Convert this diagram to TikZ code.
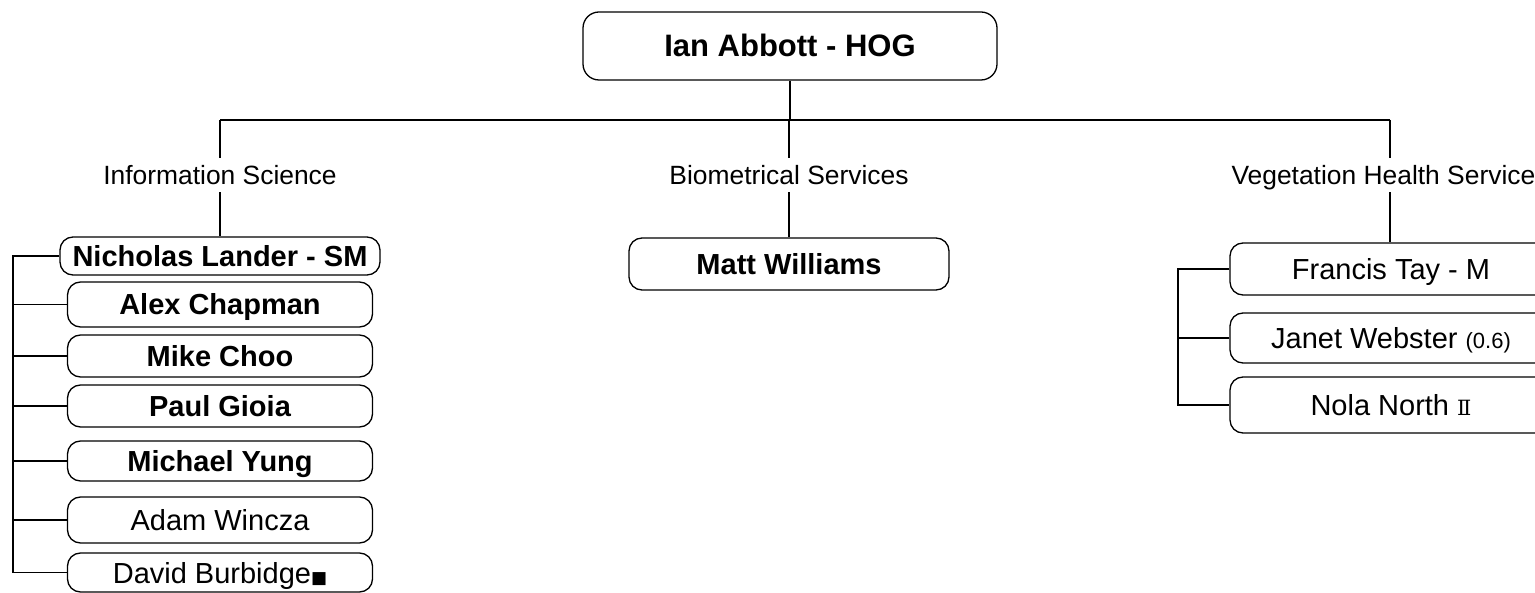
\documentclass[tikz,border=0pt]{standalone}
\usepackage{fontspec}
\setmainfont{Liberation Sans}
\newfontfamily\symfont{DejaVu Sans}
\newfontfamily\numfont{DejaVu Serif}
\begin{document}
\begin{tikzpicture}[x=1pt,y=-1pt,
  line width=1.3pt,
  every node/.style={inner sep=0pt},
  person/.style={draw, rounded corners=13pt, minimum width=305pt,
    font=\fontsize{29}{29}\selectfont, text height=21pt, text depth=0pt},
  boss/.style={person, font=\fontsize{29}{29}\selectfont\bfseries},
  head/.style={draw, rounded corners=16pt, minimum width=414pt, minimum height=68pt,
    font=\fontsize{31}{31}\selectfont\bfseries, text height=22pt, text depth=0pt},
  unit/.style={fill=white, inner xsep=2pt, inner ysep=7pt,
    font=\fontsize{26.4}{26.4}\selectfont, text height=19pt, text depth=0pt},
  link/.style={draw, line width=1.3pt}]
\useasboundingbox (0,0) rectangle (1535,593);

% head of group
\node[head] (hog) at (790,46) {Ian Abbott - HOG};

% section labels
\node[unit] (info) at (220,175) {Information Science};
\node[unit] (bio)  at (789,175) {Biometrical Services};
\node[unit] (veg)  at (1390,175) {Vegetation Health Services};

% Information Science staff
\node[boss, minimum width=320pt, minimum height=38pt] (nich) at (220,256) {Nicholas Lander - SM};
\node[boss, minimum height=45pt] (alex) at (220,304.5) {Alex Chapman};
\node[boss, minimum height=42pt] (mike) at (220,356) {Mike Choo};
\node[boss, minimum height=42pt] (paul) at (220,406) {Paul Gioia};
\node[boss, minimum height=40pt] (yung) at (220,461) {Michael Yung};
\node[person, minimum height=46pt] (adam) at (220,520) {Adam Wincza};
\node[person, minimum height=39pt] (dave) at (220,572.5) {David Burbidge{\symfont\fontsize{17}{17}\selectfont ■}};

% Biometrical Services staff
\node[boss, minimum width=320pt, minimum height=52pt] (matt) at (789,264) {Matt Williams};

% Vegetation Health Services staff
\node[person, minimum width=322pt, minimum height=52pt] (fran) at (1391,269) {Francis Tay - M};
\node[person, minimum width=322pt, minimum height=50pt] (jan) at (1391,338) {Janet Webster {\fontsize{22}{22}\selectfont(0.6)}};
\node[person, minimum width=322pt, minimum height=56pt] (nola) at (1391,405) {Nola North {\numfont\fontsize{21}{21}\selectfont Ⅱ}};

% main bar
\coordinate (barL) at (220,120);
\coordinate (barR) at (1390,120);
\draw[link] (barL) -- (barR);
\draw[link] (hog.south) -- (hog.south |- barL);
\draw[link] (barL) -- (info.north);
\draw[link] (bio.north |- barL) -- (bio.north);
\draw[link] (barR) -- (veg.north);
\draw[link] (info.south) -- (info.south |- nich.north);
\draw[link] (bio.south) -- (bio.south |- matt.north);
\draw[link] (veg.south) -- (veg.south |- fran.north);

% left spine
\coordinate (spL) at (13,256);
\coordinate (spLb) at (13,572.5);
\draw[link] (nich.west) -- (spL) -- (spLb) -- (dave.west);
\foreach \n in {alex,mike,paul,yung,adam}
  \draw[link] (\n.west) -- (spL |- \n.west);

% right spine
\coordinate (spR) at (1178,269);
\coordinate (spRb) at (1178,405);
\draw[link] (fran.west) -- (spR) -- (spRb) -- (nola.west);
\draw[link] (jan.west) -- (spR |- jan.west);
\end{tikzpicture}
\end{document}
